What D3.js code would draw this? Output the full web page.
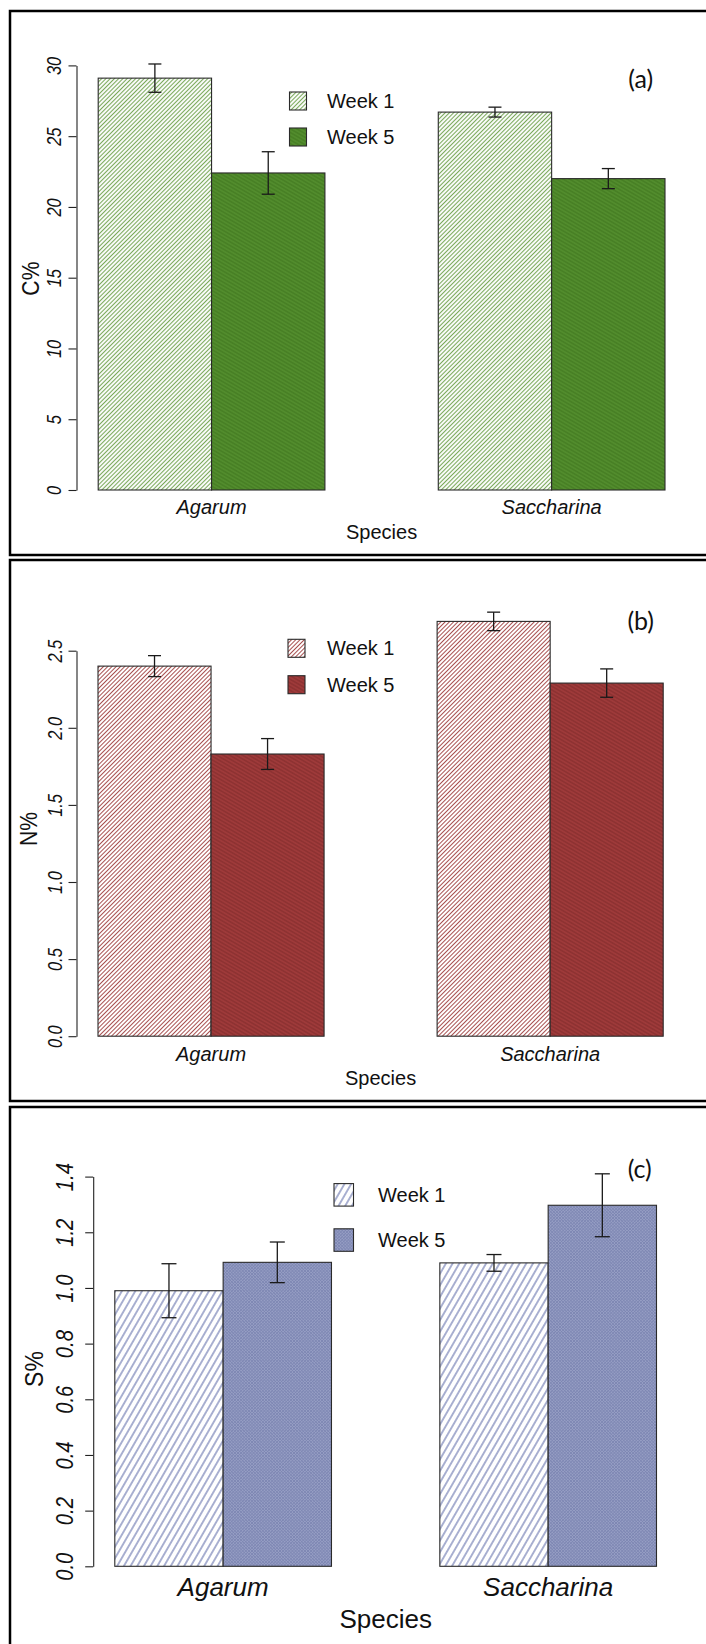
<!DOCTYPE html>
<html>
<head>
<meta charset="utf-8">
<script src="https://cdn.jsdelivr.net/npm/d3@7"></script>
<style>
  html, body { margin: 0; padding: 0; background: #fff; }
  svg { display: block; }
  text { font-family: "Liberation Sans", Arial, sans-serif; fill: #111; }
</style>
</head>
<body>
<svg id="chart" width="706" height="1644"></svg>
<script>
// ---------- data ----------
const species = ["Agarum", "Saccharina"];
const weeks = ["Week 1", "Week 5"];

const carbonWeek1 = [29.1, 26.7];
const carbonWeek5 = [22.4, 22.0];
const carbonSEWeek1 = [1.0, 0.35];
const carbonSEWeek5 = [1.5, 0.71];

const nitrogenWeek1 = [2.40, 2.69];
const nitrogenWeek5 = [1.83, 2.29];
const nitrogenSEWeek1 = [0.068, 0.06];
const nitrogenSEWeek5 = [0.10, 0.092];

const sulfurWeek1 = [0.99, 1.09];
const sulfurWeek5 = [1.092, 1.297];
const sulfurSEWeek1 = [0.097, 0.03];
const sulfurSEWeek5 = [0.073, 0.113];

const carbonTicks = [0, 5, 10, 15, 20, 25, 30];
const nitrogenTicks = [0.0, 0.5, 1.0, 1.5, 2.0, 2.5];
const sulfurTicks = [0.0, 0.2, 0.4, 0.6, 0.8, 1.0, 1.2, 1.4];

// ---------- layout ----------
const svg = d3.select("#chart");
const defs = svg.append("defs");

function hatch(id, opts) {
  const p = defs.append("pattern")
    .attr("id", id)
    .attr("patternUnits", "userSpaceOnUse")
    .attr("width", opts.spacing).attr("height", opts.spacing)
    .attr("patternTransform", `rotate(${opts.angle})`);
  p.append("rect").attr("width", opts.spacing).attr("height", opts.spacing).attr("fill", opts.bg);
  p.append("line")
    .attr("x1", opts.spacing / 2).attr("y1", 0)
    .attr("x2", opts.spacing / 2).attr("y2", opts.spacing)
    .attr("stroke", opts.color).attr("stroke-width", opts.width);
  if (opts.cross) {
    p.append("line")
      .attr("x1", 0).attr("y1", opts.spacing / 2)
      .attr("x2", opts.spacing).attr("y2", opts.spacing / 2)
      .attr("stroke", opts.color).attr("stroke-width", opts.width);
  }
}

hatch("gA1", {spacing: 3.0, angle: 45, bg: "#ffffff", color: "#7aa95a", width: 1.1});
hatch("gA5", {spacing: 3.2, angle: -60, bg: "#528c2d", color: "#427820", width: 1.0});
hatch("rB1", {spacing: 3.0, angle: 45, bg: "#ffffff", color: "#a85050", width: 1.0});
hatch("rB5", {spacing: 3.2, angle: -60, bg: "#9e3a3a", color: "#842c2c", width: 1.0});
hatch("bC1", {spacing: 5.8, angle: 30, bg: "#ffffff", color: "#5563a5", width: 1.0});
hatch("bC5", {spacing: 2.2, angle: 45, bg: "#969ec4", color: "#7d86b2", width: 0.7, cross: true});

const panels = [
  {
    week1: carbonWeek1, week5: carbonWeek5, se1: carbonSEWeek1, se5: carbonSEWeek5,
    ticks: carbonTicks, fmt: d3.format("d"), max: 30,
    y0: 490, yTop: 65.4, x0: 98.2, x1: 665, axisX: 76.5, tickLabelX: 54,
    ylab: "C%", ylabX: 31.5, ylabY: 278.6, ylabSize: 23,
    tickSize: 20, tickScale: 0.82,
    fills: ["url(#gA1)", "url(#gA5)"],
    tag: "(a)", tagX: 640.7, tagY: 78,
    legX: 289.5, legW: 17, legH: 18, legY: [92, 128], legTextX: 327, legSize: 20,
    catY: 507, catSize: 20, specY: 532, specSize: 20,
    capW: 13
  },
  {
    week1: nitrogenWeek1, week5: nitrogenWeek5, se1: nitrogenSEWeek1, se5: nitrogenSEWeek5,
    ticks: nitrogenTicks, fmt: d3.format(".1f"), max: 2.5,
    y0: 1036.2, yTop: 650.7, x0: 98, x1: 663.2, axisX: 76.5, tickLabelX: 54.5,
    ylab: "N%", ylabX: 29, ylabY: 829, ylabSize: 23,
    tickSize: 20, tickScale: 0.82,
    fills: ["url(#rB1)", "url(#rB5)"],
    tag: "(b)", tagX: 640.7, tagY: 619.6,
    legX: 288, legW: 17, legH: 18, legY: [639.3, 675.7], legTextX: 327, legSize: 20,
    catY: 1053.6, catSize: 20, specY: 1078, specSize: 20,
    capW: 13
  },
  {
    week1: sulfurWeek1, week5: sulfurWeek5, se1: sulfurSEWeek1, se5: sulfurSEWeek5,
    ticks: sulfurTicks, fmt: d3.format(".1f"), max: 1.4,
    y0: 1566.3, yTop: 1176.6, x0: 114.8, x1: 656.5, axisX: 93.2, tickLabelX: 65,
    ylab: "S%", ylabX: 34, ylabY: 1369, ylabSize: 25,
    tickSize: 23, tickScale: 0.88,
    fills: ["url(#bC1)", "url(#bC5)"],
    tag: "(c)", tagX: 639.7, tagY: 1168.4,
    legX: 334, legW: 19.5, legH: 22.5, legY: [1183.6, 1228.8], legTextX: 378, legSize: 20,
    catY: 1586.5, catSize: 26, specY: 1619, specSize: 26,
    capW: 15
  }
];

// panel frames
const frames = [
  {top: 11, bottom: 555},
  {top: 560, bottom: 1101},
  {top: 1107, bottom: 1700}
];
frames.forEach(f => {
  svg.append("rect")
    .attr("x", 10).attr("y", f.top)
    .attr("width", 760).attr("height", f.bottom - f.top)
    .attr("fill", "none").attr("stroke", "#000").attr("stroke-width", 2.5);
});

panels.forEach(P => {
  const g = svg.append("g");
  const y = d3.scaleLinear().domain([0, P.max]).range([P.y0, P.yTop]);
  const xg = d3.scaleBand().domain(species).range([P.x0, P.x1]).paddingInner(1 / 3).paddingOuter(0);
  const xs = d3.scaleBand().domain(weeks).range([0, xg.bandwidth()]).padding(0);

  const rows = [];
  species.forEach((s, i) => {
    rows.push({sp: s, wk: weeks[0], v: P.week1[i], se: P.se1[i], fill: P.fills[0]});
    rows.push({sp: s, wk: weeks[1], v: P.week5[i], se: P.se5[i], fill: P.fills[1]});
  });

  // bars
  g.selectAll("rect.bar").data(rows).join("rect")
    .attr("class", "bar")
    .attr("x", d => xg(d.sp) + xs(d.wk))
    .attr("width", xs.bandwidth())
    .attr("y", d => y(d.v))
    .attr("height", d => y(0) - y(d.v))
    .attr("fill", d => d.fill)
    .attr("stroke", "#2a2a2a").attr("stroke-width", 1.1);

  // error bars
  const eb = g.selectAll("g.err").data(rows).join("g").attr("class", "err")
    .attr("stroke", "#1a1a1a").attr("stroke-width", 1.3);
  eb.append("line")
    .attr("x1", d => xg(d.sp) + xs(d.wk) + xs.bandwidth() / 2)
    .attr("x2", d => xg(d.sp) + xs(d.wk) + xs.bandwidth() / 2)
    .attr("y1", d => y(d.v + d.se)).attr("y2", d => y(d.v - d.se));
  [1, -1].forEach(sgn => {
    eb.append("line")
      .attr("x1", d => xg(d.sp) + xs(d.wk) + xs.bandwidth() / 2 - P.capW / 2)
      .attr("x2", d => xg(d.sp) + xs(d.wk) + xs.bandwidth() / 2 + P.capW / 2)
      .attr("y1", d => y(d.v + sgn * d.se)).attr("y2", d => y(d.v + sgn * d.se));
  });

  // y axis
  const ax = g.append("g").attr("transform", `translate(${P.axisX},0)`)
    .call(d3.axisLeft(y).tickValues(P.ticks).tickFormat(P.fmt).tickSize(8).tickSizeOuter(0));
  ax.select(".domain").attr("stroke", "#222").attr("stroke-width", 1.1);
  ax.selectAll(".tick line").attr("stroke", "#222").attr("stroke-width", 1.1);
  ax.selectAll(".tick text")
    .attr("x", null).attr("dy", null)
    .attr("text-anchor", "middle")
    .attr("dominant-baseline", "central")
    .attr("transform", `translate(${P.tickLabelX - P.axisX},0) rotate(-90) scale(${P.tickScale},1)`)
    .style("font-family", "'Liberation Sans', Arial, sans-serif")
    .style("font-style", "italic")
    .style("font-size", P.tickSize + "px")
    .attr("fill", "#222");

  // y label
  g.append("text")
    .attr("transform", `translate(${P.ylabX},${P.ylabY}) rotate(-90) scale(0.92,1)`)
    .attr("text-anchor", "middle").attr("dominant-baseline", "central")
    .style("font-size", P.ylabSize + "px")
    .text(P.ylab);

  // category labels
  g.selectAll("text.cat").data(species).join("text")
    .attr("class", "cat")
    .attr("x", d => xg(d) + xg.bandwidth() / 2)
    .attr("y", P.catY)
    .attr("text-anchor", "middle").attr("dominant-baseline", "central")
    .style("font-style", "italic")
    .style("font-size", P.catSize + "px")
    .text(d => d);

  g.append("text")
    .attr("x", (xg(species[0]) + xg.bandwidth() / 2 + xg(species[1]) + xg.bandwidth() / 2) / 2)
    .attr("y", P.specY)
    .attr("text-anchor", "middle").attr("dominant-baseline", "central")
    .style("font-size", P.specSize + "px")
    .text("Species");

  // legend
  weeks.forEach((w, i) => {
    g.append("rect")
      .attr("x", P.legX).attr("y", P.legY[i])
      .attr("width", P.legW).attr("height", P.legH)
      .attr("fill", P.fills[i]).attr("stroke", "#2a2a2a").attr("stroke-width", 1.1);
    g.append("text")
      .attr("x", P.legTextX).attr("y", P.legY[i] + P.legH / 2)
      .attr("dominant-baseline", "central")
      .style("font-size", P.legSize + "px")
      .text(w);
  });

  // panel tag
  g.append("text")
    .attr("x", P.tagX).attr("y", P.tagY)
    .attr("text-anchor", "middle").attr("dominant-baseline", "central")
    .style("font-family", "Lato, 'Open Sans', sans-serif")
    .style("font-size", "25px")
    .text(P.tag);
});
</script>
</body>
</html>
